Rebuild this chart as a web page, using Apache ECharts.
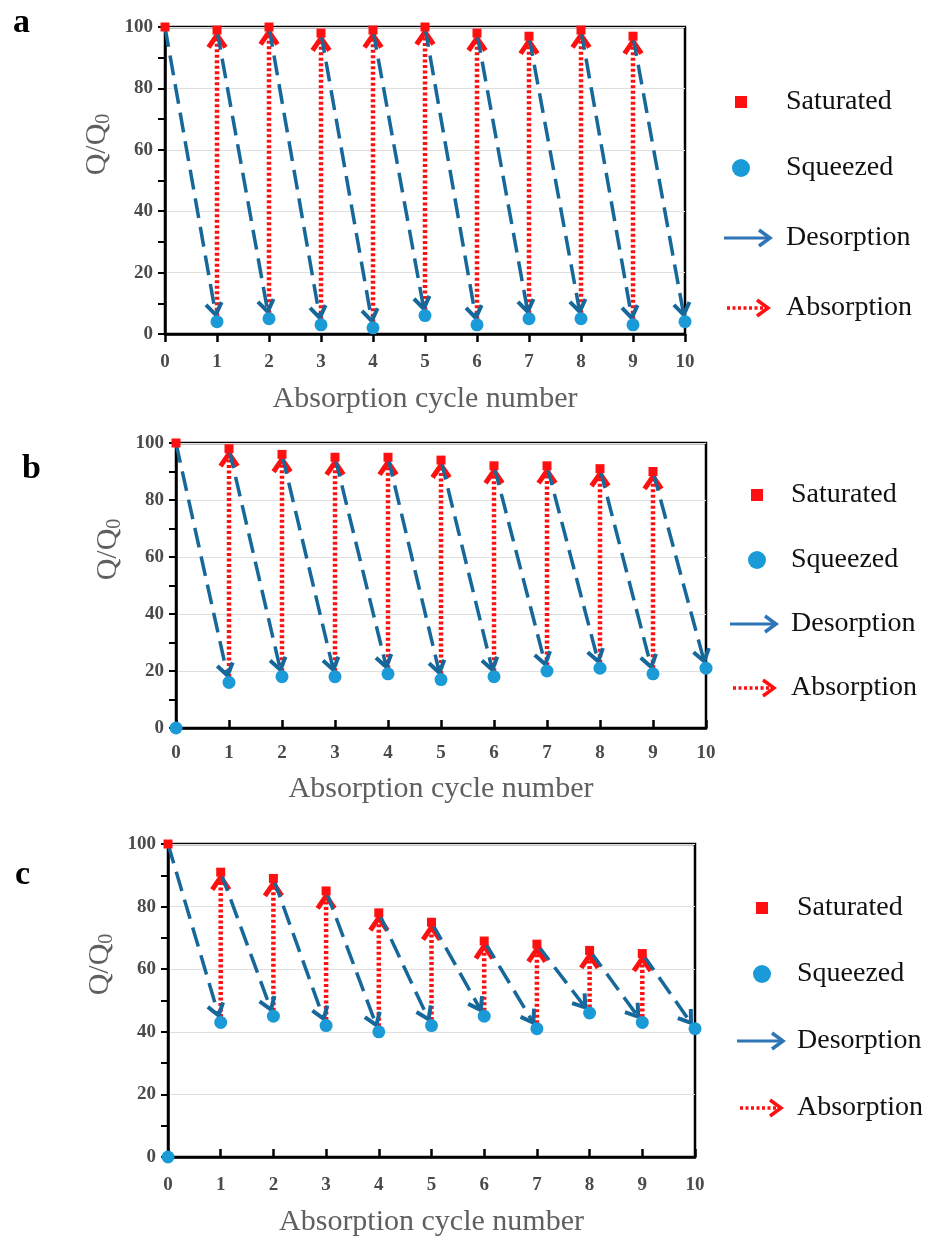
<!DOCTYPE html>
<html>
<head>
<meta charset="utf-8">
<script src="https://cdn.jsdelivr.net/npm/echarts@6/dist/echarts.min.js"></script>
<style>
  html, body { margin: 0; padding: 0; background: #fff; }
  #chart { width: 929px; height: 1238px; }
</style>
</head>
<body>
<div id="chart"></div>
<script>
// 数据
var cycles = [0, 1, 2, 3, 4, 5, 6, 7, 8, 9, 10];
var panelNames = ['a', 'b', 'c'];

var satA = [100, 99, 100, 98, 99, 100, 98, 97, 99, 97];
var sqA = [null, 4, 5, 3, 2, 6, 3, 5, 5, 3, 4];

var satB = [100, 98, 96, 95, 95, 94, 92, 92, 91, 90];
var sqB = [0, 16, 18, 18, 19, 17, 18, 20, 21, 19, 21];

var satC = [100, 91, 89, 85, 78, 75, 69, 68, 66, 65];
var sqC = [0, 43, 45, 42, 40, 42, 45, 41, 46, 43, 41];

var legendNames = ['Saturated', 'Squeezed', 'Desorption', 'Absorption'];

var serif = "'Liberation Serif', 'Times New Roman', serif";
var RED = '#ff1010';
var DOT = '#1a9ad6';
var DASH = '#17689a';

// 每个面板的位置
var layout = [
  { left: 165, top: 27, width: 520, height: 307, tick: false, labelGap: 19, nameGap: 50, yNameGap: 48,
    letter: [13, 6], mark: 741, arrow: 724, text: 786, legY: [102, 168, 238, 308] },
  { left: 176, top: 443, width: 530, height: 285, tick: true, labelGap: 16, nameGap: 46, yNameGap: 49,
    letter: [22, 452], mark: 757, arrow: 730, text: 791, legY: [495, 560, 624, 688] },
  { left: 168, top: 844, width: 527, height: 313, tick: true, labelGap: 19, nameGap: 50, yNameGap: 47,
    letter: [15, 858], mark: 762, arrow: 737, text: 797, legY: [908, 974, 1041, 1108] }
];

var sats = [satA, satB, satC];
var sqs = [sqA, sqB, sqC];

function pairs(arr) {
  var out = [];
  for (var i = 0; i < arr.length; i++) {
    if (arr[i] != null) out.push([cycles[i], arr[i]]);
  }
  return out;
}

// 箭头 (虚线 + 开口箭头头)
function arrowRender(color, dash, width, shorten, head, ang) {
  return function (params, api) {
    var p1 = api.coord([api.value(0), api.value(1)]);
    var p2 = api.coord([api.value(2), api.value(3)]);
    var dx = p2[0] - p1[0], dy = p2[1] - p1[1];
    var len = Math.sqrt(dx * dx + dy * dy);
    var ux = dx / len, uy = dy / len;
    var tip = [p2[0] - ux * shorten, p2[1] - uy * shorten];
    var bx = -ux, by = -uy;
    var c = Math.cos(ang), s = Math.sin(ang);
    var l = [tip[0] + head * (bx * c - by * s), tip[1] + head * (bx * s + by * c)];
    var r = [tip[0] + head * (bx * c + by * s), tip[1] + head * (-bx * s + by * c)];
    return {
      type: 'group',
      children: [
        { type: 'line', shape: { x1: p1[0], y1: p1[1], x2: tip[0], y2: tip[1] },
          style: { stroke: color, lineWidth: width, lineDash: dash, fill: null } },
        { type: 'polyline', shape: { points: [l, tip, r] },
          style: { stroke: color, lineWidth: width + 0.5, fill: null, lineJoin: 'miter' } }
      ]
    };
  };
}

var grids = [], xAxes = [], yAxes = [], series = [], graphics = [];

layout.forEach(function (p, k) {
  grids.push({ left: p.left, top: p.top, width: p.width, height: p.height,
    show: true, borderColor: '#000', borderWidth: 2.5, backgroundColor: 'transparent' });

  xAxes.push({
    gridIndex: k, type: 'value', min: 0, max: 10, interval: 1,
    name: 'Absorption cycle number', nameLocation: 'middle', nameGap: p.nameGap,
    nameTextStyle: { fontFamily: serif, fontSize: 30, color: '#5f5f5f' },
    axisLine: { onZero: false, lineStyle: { color: '#000', width: 2.5 } },
    axisTick: { show: true, inside: p.tick, length: 8, lineStyle: { color: '#000', width: 2.5 } },
    axisLabel: { margin: p.labelGap, fontFamily: serif, fontSize: 19, fontWeight: 'bold', color: '#4a4a4a' },
    splitLine: { show: false }
  });

  yAxes.push({
    gridIndex: k, type: 'value', min: 0, max: 100, interval: 20,
    name: '{q|Q/Q}{s|0}', nameLocation: 'middle', nameGap: p.yNameGap, nameRotate: 90,
    nameTextStyle: {
      padding: [0, 0, 0, 72],
      rich: {
        q: { fontFamily: serif, fontSize: 30, color: '#5f5f5f' },
        s: { fontFamily: serif, fontSize: 20, color: '#5f5f5f', padding: [12, 0, 0, 0] }
      }
    },
    axisLine: { lineStyle: { color: '#000', width: 2.5 } },
    axisTick: { show: true, length: 7, lineStyle: { color: '#000', width: 2 } },
    minorTick: { show: true, splitNumber: 2, length: 7, lineStyle: { color: '#000', width: 2 } },
    axisLabel: { margin: 12, fontFamily: serif, fontSize: 19, fontWeight: 'bold', color: '#4a4a4a' },
    splitLine: { show: true, lineStyle: { color: '#e0e0e0', width: 1.2 } }
  });

  var sat = sats[k], sq = sqs[k];
  var desorp = [], absorp = [];
  for (var i = 0; i < sat.length; i++) {
    desorp.push([cycles[i], sat[i], cycles[i + 1], sq[i + 1]]);
    if (i > 0) absorp.push([cycles[i], sq[i], cycles[i], sat[i]]);
  }

  series.push({
    name: 'Absorption', type: 'custom', xAxisIndex: k, yAxisIndex: k,
    renderItem: arrowRender(RED, [3, 2.5], 4.5, 5, 15, 0.6),
    encode: { x: [0, 2], y: [1, 3] }, data: absorp, z: 3, silent: true
  });
  series.push({
    name: 'Desorption', type: 'custom', xAxisIndex: k, yAxisIndex: k,
    renderItem: arrowRender(DASH, [20, 9], 3.5, 7, 14, 0.6),
    encode: { x: [0, 2], y: [1, 3] }, data: desorp, z: 4, silent: true
  });
  series.push({
    name: 'Saturated', type: 'scatter', xAxisIndex: k, yAxisIndex: k,
    symbol: 'rect', symbolSize: 9, itemStyle: { color: RED, opacity: 1 },
    data: pairs(sat), z: 5
  });
  series.push({
    name: 'Squeezed', type: 'scatter', xAxisIndex: k, yAxisIndex: k,
    symbol: 'circle', symbolSize: 13, itemStyle: { color: DOT, opacity: 1 },
    data: pairs(sq), z: 6
  });

  // 面板字母
  graphics.push({ type: 'text', left: p.letter[0], top: p.letter[1],
    style: { text: panelNames[k], font: 'bold 34px ' + serif, fill: '#000' } });

  // 图例
  var mx = p.mark, ax = p.arrow, ly = p.legY;
  graphics.push({ type: 'rect', shape: { x: mx - 6, y: ly[0] - 6, width: 12, height: 12 }, style: { fill: RED } });
  graphics.push({ type: 'circle', shape: { cx: mx, cy: ly[1], r: 9 }, style: { fill: DOT } });
  graphics.push({ type: 'line', shape: { x1: ax, y1: ly[2], x2: ax + 45, y2: ly[2] },
    style: { stroke: '#2e75b6', lineWidth: 3 } });
  graphics.push({ type: 'polyline', shape: { points: [[ax + 35, ly[2] - 8], [ax + 46, ly[2]], [ax + 35, ly[2] + 8]] },
    style: { stroke: '#2e75b6', lineWidth: 3.5, fill: null } });
  graphics.push({ type: 'line', shape: { x1: ax + 3, y1: ly[3], x2: ax + 40, y2: ly[3] },
    style: { stroke: RED, lineWidth: 3.5, lineDash: [3, 2.5] } });
  graphics.push({ type: 'polyline', shape: { points: [[ax + 33, ly[3] - 8], [ax + 44, ly[3]], [ax + 33, ly[3] + 8]] },
    style: { stroke: RED, lineWidth: 3.5, fill: null } });
  for (var j = 0; j < 4; j++) {
    graphics.push({ type: 'text', x: p.text, y: ly[j],
      style: { text: legendNames[j], font: '28px ' + serif, fill: '#111', verticalAlign: 'middle' } });
  }
});

var option = {
  backgroundColor: '#fff',
  animation: false,
  grid: grids,
  xAxis: xAxes,
  yAxis: yAxes,
  series: series,
  graphic: graphics
};

var myChart = echarts.init(document.getElementById('chart'));
myChart.setOption(option);
</script>
</body>
</html>
